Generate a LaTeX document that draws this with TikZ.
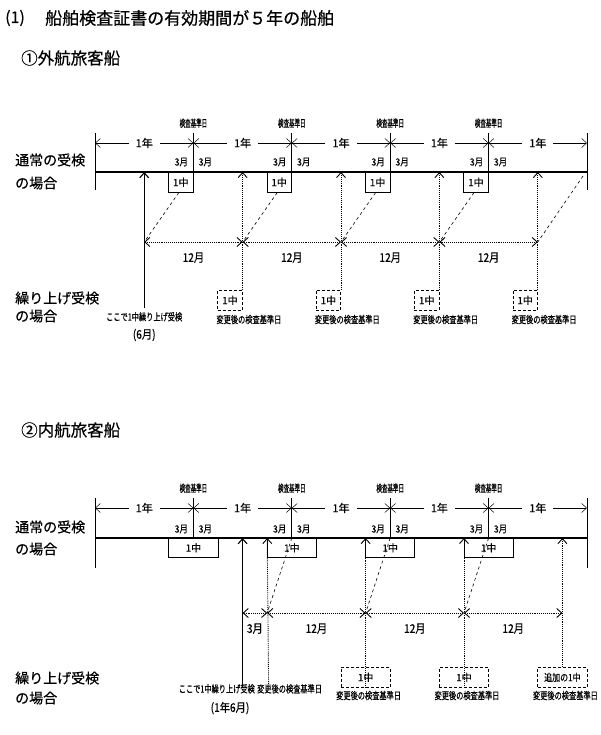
\documentclass[tikz,border=0pt]{standalone}
\usepackage{fontspec}
\usepackage{graphicx}
\setmainfont{Noto Sans CJK JP}[FakeBold=0.5]
\usetikzlibrary{arrows.meta,positioning,calc}
\newcommand{\narrow}[2][0.7]{\scalebox{#1}[1]{#2}}
\newcommand{\fsz}[1]{\fontsize{#1}{#1}\selectfont}

\begin{document}
\begin{tikzpicture}[x=1pt,y=-1pt,>={Straight Barb[length=5pt,width=9pt]}]
\tikzstyle{timeline}=[line width=1.2pt]
\tikzstyle{tick}=[line width=0.9pt]
\tikzstyle{dim}=[<->,line width=0.5pt]
\tikzstyle{dots}=[densely dotted,line width=0.9pt]
\tikzstyle{slant}=[dash pattern=on 3pt off 3pt,line width=0.6pt]
\tikzstyle{box}=[draw,line width=0.7pt,inner sep=0pt,font=\fsz{10}]
\tikzstyle{dbox}=[box,densely dashed]
\tikzstyle{small}=[font=\fsz{10},inner sep=0pt]
\tikzstyle{side}=[anchor=west,font=\fsz{14},inner sep=0pt]

\useasboundingbox (0,0) rectangle (600,735);

% headings
\node[anchor=west,font=\fsz{16},inner sep=0pt] (num) at (5,18) {(1)};
\node[anchor=west,font=\fsz{17},inner sep=0pt] (title) at (45,18) {船舶検査証書の有効期間が５年の船舶};
\node[anchor=west,font=\fsz{16.5},inner sep=0pt] (head1) at (21,58) {①外航旅客船};
\node[anchor=west,font=\fsz{16.5},inner sep=0pt] (head2) at (21,430) {②内航旅客船};

\node[side] (norm1) at (15,160) {通常の受検};
\node[side] (norm1b) at (15,183) {の場合};
\node[side] (up1) at (15,298) {繰り上げ受検};
\node[side] (up1b) at (15,316) {の場合};
\node[side] (norm2) at (15,527) {通常の受検};
\node[side] (norm2b) at (15,549) {の場合};
\node[side] (up2) at (15,678) {繰り上げ受検};
\node[side] (up2b) at (15,698) {の場合};

% ---------- (1) top chart ----------
\foreach \i in {0,...,5}{
  \pgfmathsetmacro\x{95+98.4*\i}
  \coordinate (top\i) at (\x,133);
  \coordinate (d\i) at (\x,143);
  \coordinate (t\i) at (\x,172);
  \coordinate (bot\i) at (\x,190);
}
\draw[timeline] (t0) -- (t5);
\draw[tick] (top0) -- (bot0);
\draw[tick] (top5) -- (bot5);
\foreach \i/\j in {0/1,1/2,2/3,3/4,4/5}
  \draw[dim] (d\i) -- node[fill=white,font=\fsz{11},inner xsep=7pt,inner ysep=1pt] {1年} (d\j);
\foreach \i in {1,...,4}{
  \pgfmathsetmacro\x{95+98.4*\i}
  \draw[tick] (top\i) -- (t\i);
  \node[small] (std\i) [above=5pt of top\i] {\narrow[0.55]{検査基準日}};
  \node[small] (ml\i) at (\x-12,162) {\narrow[0.85]{3月}};
  \node[small] (mr\i) at (\x+12,162) {\narrow[0.85]{3月}};
  \node[box,minimum width=24.6pt,minimum height=20pt,anchor=north east] (b\i) at (t\i) {1中};
}

% moved-up inspection
\coordinate (up0) at (144.2,172);
\coordinate (low0) at (144.2,308);
\coordinate (h0) at (144.2,242);
\draw[->,line width=1.1pt] (low0) -- (up0);
\node[small,below=4pt of low0] (here1) {\narrow[0.72]{ここで1中繰り上げ受検}};
\node[font=\fsz{12},inner sep=0pt,below=7pt of here1] (six) {\narrow[0.85]{(6月)}};

\foreach \i in {1,...,4}{
  \pgfmathsetmacro\x{95+98.4*\i+49.2}
  \coordinate (u\i) at (\x,172);
  \coordinate (h\i) at (\x,242);
  \node[dbox,minimum width=24.6pt,minimum height=20pt,anchor=north east] (n\i) at (\x,290) {1中};
  \draw[dots,->] (n\i.north east) -- (u\i);
  \node[small,anchor=north west] (chg\i) at ([xshift=-1pt,yshift=-4pt]n\i.south west) {\narrow[0.72]{変更後の検査基準日}};
}
\foreach \i/\j in {0/1,1/2,2/3,3/4}
  \draw[dots,<->] (h\i) -- node[below=10pt,font=\fsz{12},inner sep=0pt] {\narrow[0.85]{12月}} (h\j);
\foreach \i/\j in {1/0,2/1,3/2,4/3}
  \draw[slant] ([xshift=-2pt]b\i.south) -- (h\j);
\coordinate (e5) at (583,176);
\draw[slant] (e5) -- (h4);

% ---------- (2) bottom chart ----------
\foreach \i in {0,...,5}{
  \pgfmathsetmacro\x{95+98.4*\i}
  \coordinate (Btop\i) at (\x,498);
  \coordinate (Bd\i) at (\x,508);
  \coordinate (Bt\i) at (\x,538);
  \coordinate (Bbot\i) at (\x,568);
}
\draw[timeline] (Bt0) -- (Bt5);
\draw[tick] (Btop0) -- (Bbot0);
\draw[tick] (Btop5) -- (Bbot5);
\foreach \i/\j in {0/1,1/2,2/3,3/4,4/5}
  \draw[dim] (Bd\i) -- node[fill=white,font=\fsz{11},inner xsep=7pt,inner ysep=1pt] {1年} (Bd\j);
\foreach \i in {1,...,4}{
  \pgfmathsetmacro\x{95+98.4*\i}
  \draw[tick] (Btop\i) -- (Bt\i);
  \node[small] (Bstd\i) [above=5pt of Btop\i] {\narrow[0.55]{検査基準日}};
  \node[small] (Bml\i) at (\x-12,529) {\narrow[0.85]{3月}};
  \node[small] (Bmr\i) at (\x+12,529) {\narrow[0.85]{3月}};
  \node[box,minimum width=49.2pt,minimum height=19pt,anchor=north] (Bb\i) at (Bt\i) {1中};
}

% moved-up inspection
\coordinate (Bup1) at (242.6,538);
\coordinate (Blow1) at (242.6,687);
\coordinate (Bh1) at (242.6,613);
\draw[->,line width=1.1pt] (Blow1) -- (Bup1);
\node[small,anchor=north east] (here2) at (255,684) {\narrow[0.72]{ここで1中繰り上げ受検}};
\node[font=\fsz{12},inner sep=0pt] (sixb) at (230,708) {\narrow[0.85]{(1年6月)}};

\foreach \i in {2,...,5}{
  \pgfmathsetmacro\x{95+98.4*\i-24.6}
  \coordinate (Bu\i) at (\x,538);
  \coordinate (Bh\i) at (\x,613);
}
\coordinate (Bend2) at (268.6,684);
\draw[dots,->] (Bend2) -- (Bu2);
\node[small,anchor=north west] (Bchg2) at (257,684) {\narrow[0.72]{変更後の検査基準日}};

\foreach \i in {3,4}{
  \node[dbox,minimum width=49.2pt,minimum height=20pt,anchor=north] (Bn\i) at ($(Bu\i)+(0,129)$) {1中};
}
\node[dbox,minimum width=49.2pt,minimum height=20pt,anchor=north] (Bn5) at ($(Bu5)+(0,129)$) {\narrow[0.8]{追加の1中}};
\draw[dots,->] (Bn3.south) -- (Bu3);
\draw[dots,->] (Bn4.south) -- (Bu4);
\draw[dots,->] (Bn5.north) -- (Bu5);
\foreach \i in {3,4,5}
  \node[small,below=3pt of Bn\i,xshift=3pt] (Bchg\i) {\narrow[0.72]{変更後の検査基準日}};

\draw[dots,<->] (Bh1) -- node[below=10pt,font=\fsz{12},inner sep=0pt] {\narrow[0.85]{3月}} (Bh2);
\foreach \i/\j in {2/3,3/4,4/5}
  \draw[dots,<->] (Bh\i) -- node[below=10pt,font=\fsz{12},inner sep=0pt] {\narrow[0.85]{12月}} (Bh\j);
\foreach \i in {2,3,4}
  \draw[slant] (Bt\i) -- (Bh\i);
\end{tikzpicture}
\end{document}
